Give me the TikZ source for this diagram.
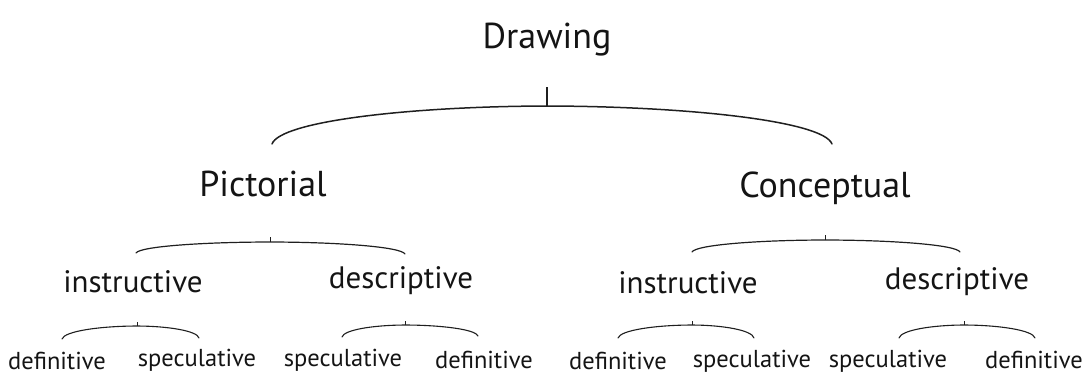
\documentclass[tikz,border=0pt]{standalone}
\usepackage{fontspec}
\setmainfont{PT Sans}
\usetikzlibrary{calc}
\begin{document}
\begin{tikzpicture}[x=1pt,y=-1pt,
  lbl/.style={anchor=base,inner sep=0pt,text=black!92},
  big/.style={lbl,font=\fontsize{36}{36}\selectfont},
  mid/.style={lbl,font=\fontsize{31}{31}\selectfont},
  sml/.style={lbl,font=\fontsize{24.5}{24.5}\selectfont},
  arc/.style={draw=black!88,line width=1.2pt,line cap=round},
  tick/.style={draw=black!88,line width=0.9pt}]
\useasboundingbox (0,0) rectangle (1082,376);
% labels
\node[big] (draw) at (547,48) {Drawing};
\node[big] (pic) at (263,196) {Pictorial};
\node[big] (con) at (825,197) {Conceptual};
\node[mid] (pi) at (133,292) {instructive};
\node[mid] (pd) at (401,288) {descriptive};
\node[mid] (ci) at (688,293) {instructive};
\node[mid] (cd) at (957,289) {descriptive};
\node[sml] (p1) at (57,369) {definitive};
\node[sml] (p2) at (197,366) {speculative};
\node[sml] (p3) at (343,366) {speculative};
\node[sml] (p4) at (484,368) {definitive};
\node[sml] (c1) at (618,369) {definitive};
\node[sml] (c2) at (752,367) {speculative};
\node[sml] (c3) at (888,367) {speculative};
\node[sml] (c4) at (1034,368) {definitive};
% arc coordinates
\coordinate (t0) at (547,87);
\coordinate (a0) at (547,106);
\coordinate (l0) at (272,144);
\coordinate (r0) at (832,144);
\coordinate (a1) at (270,242);
\coordinate (l1) at (136,253);
\coordinate (r1) at (405,254);
\coordinate (a2) at (825,240);
\coordinate (l2) at (692,252);
\coordinate (r2) at (960,252);
\coordinate (a3) at (137,326);
\coordinate (l3) at (62,339);
\coordinate (r3) at (199,338);
\coordinate (a4) at (405,325);
\coordinate (l4) at (342,337);
\coordinate (r4) at (478,336);
\coordinate (a5) at (692,325);
\coordinate (l5) at (618,338);
\coordinate (r5) at (754,338);
\coordinate (a6) at (964,325);
\coordinate (l6) at (899,338);
\coordinate (r6) at (1035,338);
% top
\draw[tick,line width=1.2pt] (t0) -- (a0);
\foreach \a/\l/\r/\w/\tk in {a0/l0/r0/1.5/0,a1/l1/r1/1.2/5,a2/l2/r2/1.2/5,a3/l3/r3/1.1/4,a4/l4/r4/1.1/4,a5/l5/r5/1.1/4,a6/l6/r6/1.1/4}{
  \draw[arc,line width=\w pt] let \p1=(\l), \p2=(\a), \p3=(\r) in
    (\p1) .. controls ({\x1+0.03*(\x2-\x1)},{\y1+0.6*(\y2-\y1)}) and ({\x2-0.5*(\x2-\x1)},{\y2-0.01*(\y2-\y1)}) .. (\p2)
          .. controls ({\x2+0.5*(\x3-\x2)},{\y2-0.01*(\y2-\y3)}) and ({\x3-0.03*(\x3-\x2)},{\y3+0.6*(\y2-\y3)}) .. (\p3);
  \draw[tick] (\a) -- ++(0,-\tk);
}
\end{tikzpicture}
\end{document}
